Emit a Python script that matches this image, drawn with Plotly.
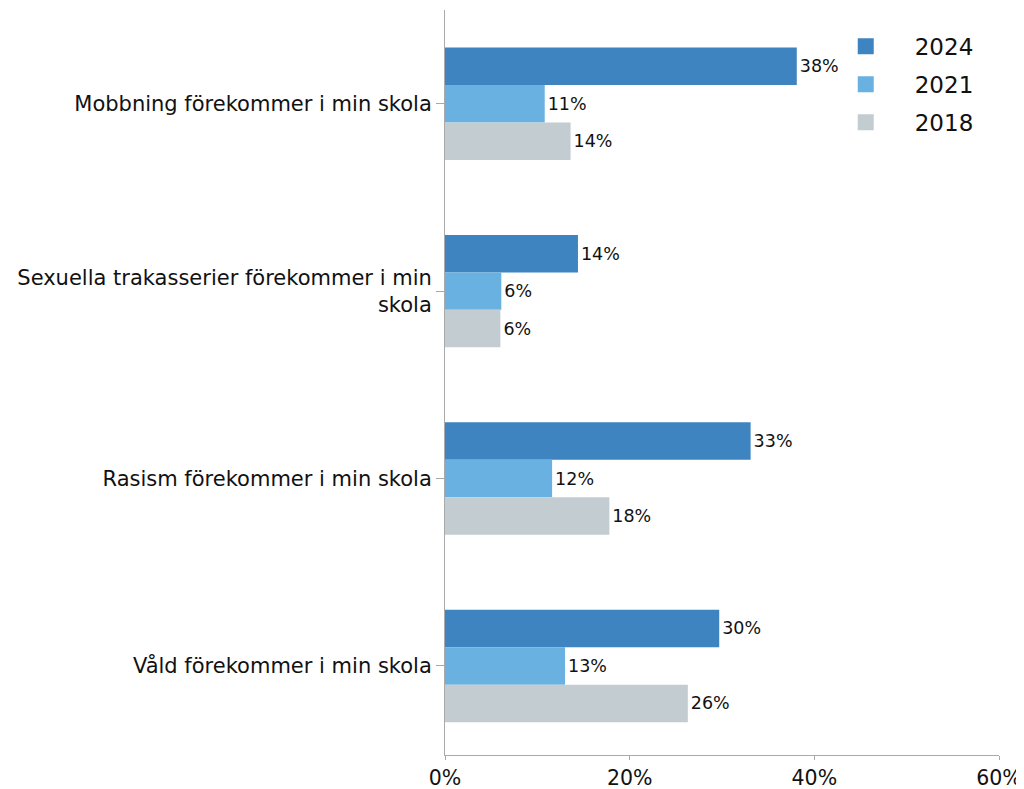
import plotly.graph_objects as go

categories = [
    "Mobbning förekommer i min skola",
    "Sexuella trakasserier förekommer i min<br>skola",
    "Rasism förekommer i min skola",
    "Våld förekommer i min skola",
]
years = ["2024", "2021", "2018"]
values_2024 = [38.1, 14.4, 33.1, 29.7]
values_2021 = [10.8, 6.1, 11.6, 13.0]
values_2018 = [13.6, 6.0, 17.8, 26.3]
colors = ["#3d84c1", "#69b1e0", "#c2ccd1"]
x_ticks = [0, 20, 40, 60]
x_ticktext = ["0%", "20%", "40%", "60%"]

FONT = "DejaVu Sans, Noto Sans, sans-serif"

fig = go.Figure()
for year, vals, col in zip(years, [values_2024, values_2021, values_2018], colors):
    fig.add_trace(go.Bar(
        y=categories, x=vals, name=year, orientation="h",
        showlegend=False,
        marker=dict(color=col, line=dict(width=0)),
        texttemplate="%{x:.0f}%", textposition="outside",
        textfont=dict(size=17.5, color="#111111"),
        cliponaxis=False,
    ))
    # legend entry with a larger square swatch
    fig.add_trace(go.Scatter(
        x=[None], y=[None], mode="markers", name=year, legendgroup=year,
        marker=dict(symbol="square", size=16, color=col),
    ))

fig.update_layout(
    width=1024, height=789,
    barmode="group", bargap=0.4, bargroupgap=0,
    paper_bgcolor="white", plot_bgcolor="white",
    font=dict(family=FONT, color="#111111"),
    margin=dict(l=437, r=33, t=2, b=42, autoexpand=False),
    legend=dict(x=0.671, y=0.98, xanchor="left", yanchor="top",
                font=dict(size=23), traceorder="grouped",
                tracegroupgap=5, itemwidth=88,
                bgcolor="rgba(0,0,0,0)"),
    xaxis=dict(range=[0, 60], tickvals=x_ticks, ticktext=x_ticktext,
               showgrid=False, zeroline=False, showline=True,
               linecolor="#aaaaaa", ticks="outside", ticklen=4,
               tickcolor="#aaaaaa", tickfont=dict(size=20.5),
               automargin=False),
    yaxis=dict(range=[3.475, -0.5], showgrid=False, zeroline=False,
               showline=True, linecolor="#aaaaaa", ticks="outside",
               ticklen=8, tickcolor="#aaaaaa", tickfont=dict(size=21),
               automargin=False),
)

fig.write_html("out.html")
